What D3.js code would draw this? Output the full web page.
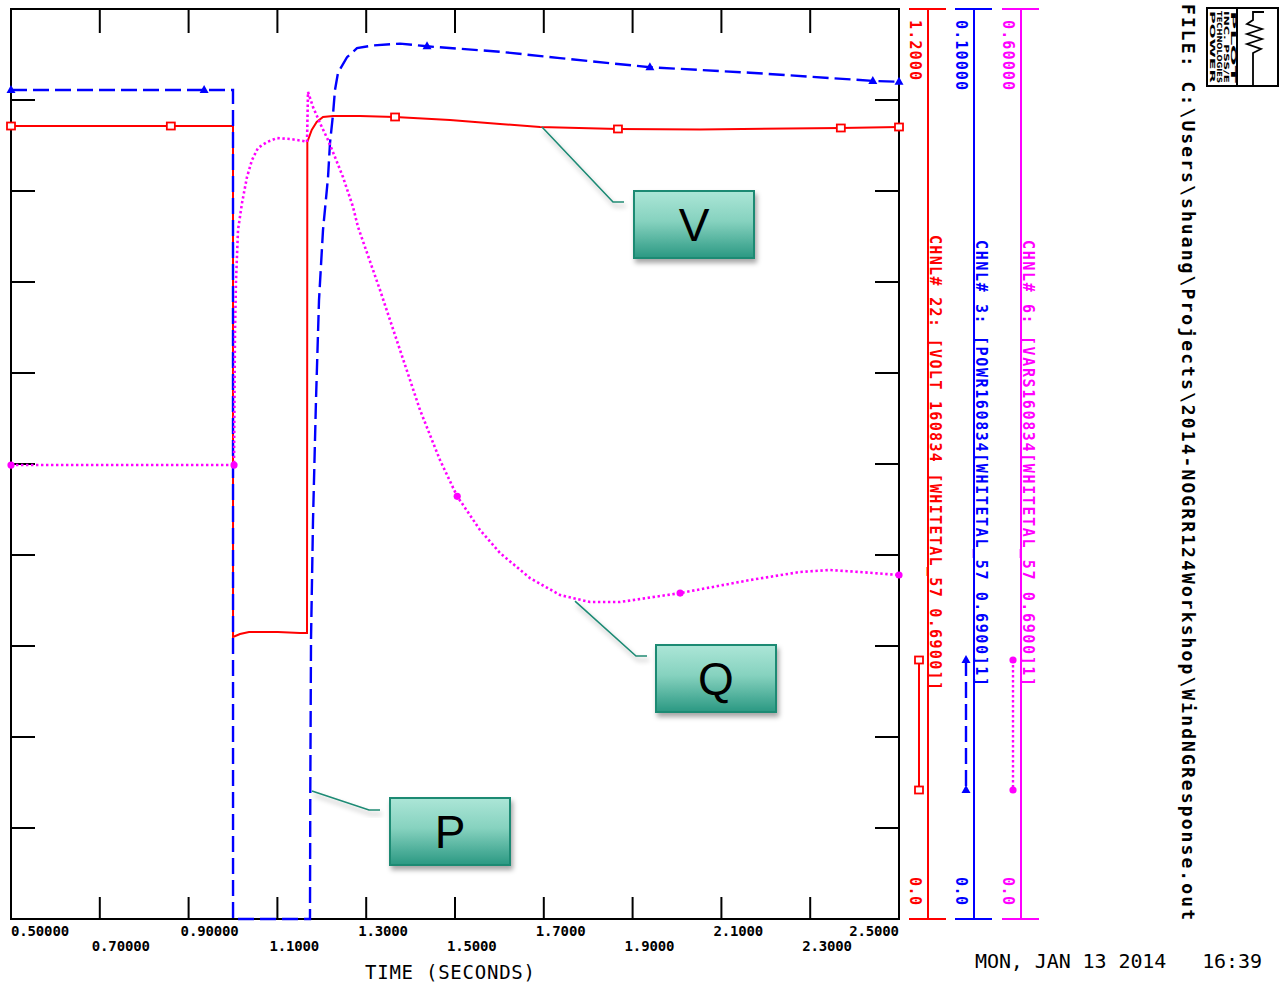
<!DOCTYPE html>
<html>
<head>
<meta charset="utf-8">
<script src="https://cdn.jsdelivr.net/npm/d3@7"></script>
<style>
  body { margin: 0; background: #fff; }
  svg { display: block; }
</style>
</head>
<body>
<div id="chart"></div>
<script>
// channel 22 - terminal voltage (pu)
const vTime = [0.5, 1.0, 1.0001, 1.0158, 1.036, 1.101, 1.151, 1.1667, 1.1674, 1.1773, 1.1885, 1.2027,
  1.2252, 1.286, 1.3649, 1.4887, 1.6014, 1.6914, 1.8671, 2.0518, 2.3694, 2.5];
const vValue = [1.0457, 1.0457, 0.3719, 0.3758, 0.3785, 0.3785, 0.3771, 0.3771, 1.0246, 1.0404, 1.051, 1.0576,
  1.0589, 1.0589, 1.0576, 1.0536, 1.0484, 1.0444, 1.0418, 1.0411, 1.0431, 1.0444];

// channel 3 - active power
const pTime = [0.5, 1.0, 1.0001, 1.1734, 1.1741, 1.1757, 1.1802, 1.1869, 1.1937, 1.2027, 1.214, 1.2185, 1.2252,
  1.2297, 1.2365, 1.2568, 1.2793, 1.3153, 1.3761, 1.4369, 1.6014, 1.7365, 1.9392, 2.1644, 2.4414, 2.5];
const pValue = [0.0911, 0.0911, 0, 0, 0.0142, 0.0307, 0.0438, 0.057, 0.068, 0.0757, 0.0815, 0.0853, 0.0884,
  0.0911, 0.093, 0.0947, 0.0957, 0.096, 0.0962, 0.0959, 0.0953, 0.0946, 0.0936, 0.093, 0.0921, 0.092];

// channel 6 - reactive power
const qTime = [0.5, 1.0, 1.0023, 1.0045, 1.0068, 1.0113, 1.0203, 1.0315, 1.0428, 1.0563, 1.0766, 1.0991, 1.1284,
  1.1577, 1.1667, 1.1689, 1.1802, 1.1959, 1.214, 1.2297, 1.2477, 1.2703, 1.2815, 1.3311, 1.3761, 1.4212, 1.4662,
  1.5045, 1.5563, 1.6014, 1.6689, 1.7365, 1.8041, 1.8716, 2.0068, 2.1644, 2.277, 2.3446, 2.4122, 2.5];
const qValue = [0.2993, 0.2993, 0.2993, 0.3884, 0.4213, 0.4543, 0.4721, 0.4892, 0.5004, 0.5084, 0.5123, 0.5149,
  0.5143, 0.513, 0.5123, 0.5453, 0.5354, 0.5248, 0.5136, 0.5024, 0.4892, 0.4695, 0.4563, 0.4147, 0.3752, 0.3356,
  0.3026, 0.2789, 0.2565, 0.2413, 0.2248, 0.2136, 0.209, 0.209, 0.2149, 0.2235, 0.2288, 0.2301, 0.2288, 0.2268];

// symbol positions along each trace
const vMarkTime = [0.5, 0.86, 1.365, 1.867, 2.369, 2.5];
const pMarkTime = [0.5, 0.935, 1.437, 1.939, 2.441, 2.5];
const qMarkTime = [0.5, 1.0023, 1.505, 2.007, 2.5];

const xTickValues = [0.5, 0.7, 0.9, 1.1, 1.3, 1.5, 1.7, 1.9, 2.1, 2.3, 2.5];
const xTickLabels = ['0.50000', '0.70000', '0.90000', '1.1000', '1.3000', '1.5000', '1.7000', '1.9000',
  '2.1000', '2.3000', '2.5000'];

const channels = [
  { name: 'CHNL# 22: [VOLT 160834 [WHITETAL_57 0.6900]]', min: '0.0', max: '1.2000', color: '#ff0000' },
  { name: 'CHNL# 3: [POWR160834[WHITETAL_57 0.6900]1]', min: '0.0', max: '0.10000', color: '#0000ff' },
  { name: 'CHNL# 6: [VARS160834[WHITETAL_57 0.6900]1]', min: '0.0', max: '0.60000', color: '#ff00ff' },
];

const width = 1281;
const height = 984;
const plot = { left: 11, top: 9, right: 899, bottom: 919 };
const plotFont = "'DejaVu Sans Mono', monospace";

const x = d3.scaleLinear().domain([0.5, 2.5]).range([plot.left, plot.right]);
const yV = d3.scaleLinear().domain([0, 1.2]).range([plot.bottom, plot.top]);
const yP = d3.scaleLinear().domain([0, 0.1]).range([plot.bottom, plot.top]);
const yQ = d3.scaleLinear().domain([0, 0.6]).range([plot.bottom, plot.top]);
const yDiv = d3.scaleLinear().domain([0, 10]).range([plot.bottom, plot.top]);

const valueAt = (ts, vs, t) => {
  const i = d3.bisectLeft(ts, t);
  if (i <= 0) return vs[0];
  if (i >= ts.length) return vs[vs.length - 1];
  const k = (t - ts[i - 1]) / (ts[i] - ts[i - 1]);
  return vs[i - 1] + (vs[i] - vs[i - 1]) * k;
};

const svg = d3.select('#chart')
  .append('svg')
  .attr('width', width)
  .attr('height', height)
  .attr('viewBox', [0, 0, width, height]);

svg.append('rect').attr('width', width).attr('height', height).attr('fill', '#fff');

const defs = svg.append('defs');
const grad = defs.append('linearGradient')
  .attr('id', 'boxFill')
  .attr('x1', 0).attr('y1', 0).attr('x2', 0).attr('y2', 1);
grad.append('stop').attr('offset', '0%').attr('stop-color', '#ace6d7');
grad.append('stop').attr('offset', '45%').attr('stop-color', '#86d2bf');
grad.append('stop').attr('offset', '100%').attr('stop-color', '#2a9882');

const shadow = defs.append('filter')
  .attr('id', 'shadow')
  .attr('x', '-20%').attr('y', '-20%').attr('width', '150%').attr('height', '160%');
shadow.append('feDropShadow')
  .attr('dx', 2).attr('dy', 4).attr('stdDeviation', 2.5)
  .attr('flood-color', '#000').attr('flood-opacity', 0.35);

// frame + ticks
const frame = svg.append('g').attr('stroke', '#000').attr('stroke-width', 2).attr('fill', 'none');
frame.append('rect')
  .attr('x', plot.left).attr('y', plot.top)
  .attr('width', plot.right - plot.left).attr('height', plot.bottom - plot.top);

const innerX = xTickValues.slice(1, -1);
frame.selectAll('.tt').data(innerX).join('line')
  .attr('x1', (d) => x(d)).attr('x2', (d) => x(d))
  .attr('y1', plot.top).attr('y2', plot.top + 24);
frame.selectAll('.bt').data(innerX).join('line')
  .attr('x1', (d) => x(d)).attr('x2', (d) => x(d))
  .attr('y1', plot.bottom).attr('y2', plot.bottom - 22);

const divs = d3.range(1, 10);
frame.selectAll('.lt').data(divs).join('line')
  .attr('x1', plot.left).attr('x2', plot.left + 24)
  .attr('y1', (d) => yDiv(d)).attr('y2', (d) => yDiv(d));
frame.selectAll('.rt').data(divs).join('line')
  .attr('x1', plot.right).attr('x2', plot.right - 24)
  .attr('y1', (d) => yDiv(d)).attr('y2', (d) => yDiv(d));

// x labels, two staggered rows
svg.append('g')
  .attr('font-family', plotFont)
  .attr('font-weight', 'bold')
  .attr('font-size', 14)
  .selectAll('text')
  .data(xTickValues)
  .join('text')
  .attr('x', (d, i) => {
    if (i === 0) return x(d);
    if (i === xTickValues.length - 1) return x(d);
    return x(d) - 8;
  })
  .attr('y', (d, i) => (i % 2 === 0 ? 936 : 951))
  .attr('text-anchor', (d, i) => (i === xTickValues.length - 1 ? 'end' : 'start'))
  .attr('textLength', (d, i) => xTickLabels[i].length * 8.3)
  .text((d, i) => xTickLabels[i]);

svg.append('text')
  .attr('x', 365).attr('y', 979)
  .attr('font-family', plotFont)
  .attr('font-size', 19)
  .attr('textLength', 170)
  .text('TIME (SECONDS)');

svg.append('text')
  .attr('x', 975).attr('y', 968)
  .attr('font-family', plotFont)
  .attr('font-size', 20)
  .attr('textLength', 287)
  .attr('xml:space', 'preserve')
  .text('MON, JAN 13 2014   16:39');

// traces
const lineV = d3.line().x((d) => x(d[0])).y((d) => yV(d[1]));
const lineP = d3.line().x((d) => x(d[0])).y((d) => yP(d[1]));
const lineQ = d3.line().x((d) => x(d[0])).y((d) => yQ(d[1]));

const traces = svg.append('g').attr('fill', 'none');
traces.append('path')
  .attr('d', lineV(d3.zip(vTime, vValue)))
  .attr('stroke', '#ff0000').attr('stroke-width', 2);
traces.append('path')
  .attr('d', lineP(d3.zip(pTime, pValue)))
  .attr('stroke', '#0000ff').attr('stroke-width', 2.4)
  .attr('stroke-dasharray', '16,6');
traces.append('path')
  .attr('d', lineQ(d3.zip(qTime, qValue)))
  .attr('stroke', '#ff00ff').attr('stroke-width', 2.6)
  .attr('stroke-dasharray', '2.4,2.6');

const square = (g, cx, cy) => g.append('rect')
  .attr('x', cx - 4).attr('y', cy - 3.5).attr('width', 8).attr('height', 7)
  .attr('fill', '#fff').attr('stroke', '#ff0000').attr('stroke-width', 1.8);
const triangle = (g, cx, cy) => g.append('path')
  .attr('d', `M${cx},${cy - 5}L${cx + 4.5},${cy + 3}L${cx - 4.5},${cy + 3}Z`)
  .attr('fill', '#0000ff');
const dot = (g, cx, cy) => g.append('circle')
  .attr('cx', cx).attr('cy', cy).attr('r', 3.6)
  .attr('fill', '#ff00ff');

const marks = svg.append('g');
vMarkTime.forEach((t) => square(marks, x(t), yV(valueAt(vTime, vValue, t))));
pMarkTime.forEach((t) => triangle(marks, x(t), yP(valueAt(pTime, pValue, t))));
qMarkTime.forEach((t) => dot(marks, x(t), yQ(valueAt(qTime, qValue, t))));

// channel axes on the right
const axisX = [928, 974, 1021];
const sampleX = [919, 966, 1013];
const chan = svg.append('g').attr('font-family', plotFont).attr('font-weight', 'bold');
channels.forEach((c, i) => {
  const ax = axisX[i];
  chan.append('line')
    .attr('x1', ax).attr('x2', ax).attr('y1', plot.top).attr('y2', plot.bottom)
    .attr('stroke', c.color).attr('stroke-width', 2);
  [plot.top, plot.bottom].forEach((yy) => chan.append('line')
    .attr('x1', ax - 19).attr('x2', ax + 18).attr('y1', yy).attr('y2', yy)
    .attr('stroke', c.color).attr('stroke-width', 2));

  chan.append('text')
    .attr('transform', `translate(${ax - 18},20) rotate(90)`)
    .attr('font-size', 15)
    .attr('fill', c.color)
    .attr('textLength', c.max.length * 10)
    .text(c.max);
  chan.append('text')
    .attr('transform', `translate(${ax - 18},877) rotate(90)`)
    .attr('font-size', 15)
    .attr('fill', c.color)
    .attr('textLength', 28)
    .text(c.min);
  chan.append('text')
    .attr('transform', `translate(${ax + 2},${i === 0 ? 235 : 240}) rotate(90)`)
    .attr('font-size', 15)
    .attr('fill', c.color)
    .attr('textLength', i === 0 ? 455 : 446)
    .text(c.name);

  // legend sample
  const sx = sampleX[i];
  const seg = chan.append('line')
    .attr('x1', sx).attr('x2', sx).attr('y1', 660).attr('y2', 790)
    .attr('stroke', c.color).attr('stroke-width', 2);
  if (i === 1) seg.attr('stroke-dasharray', '16,6').attr('stroke-width', 2.4);
  if (i === 2) seg.attr('stroke-dasharray', '2.4,2.6').attr('stroke-width', 2.4);
  [660, 790].forEach((yy) => {
    if (i === 0) square(chan, sx, yy);
    if (i === 1) triangle(chan, sx, yy);
    if (i === 2) dot(chan, sx, yy);
  });
});

// file path
svg.append('text')
  .attr('transform', 'translate(1182,4) rotate(90)')
  .attr('font-family', plotFont)
  .attr('font-weight', 'bold')
  .attr('font-size', 18)
  .attr('textLength', 916)
  .text('FILE: C:\\Users\\shuang\\Projects\\2014-NOGRR124Workshop\\WindNGResponse.out');

// logo block
const logo = svg.append('g').attr('stroke', '#000').attr('fill', 'none').attr('stroke-width', 2);
logo.append('rect').attr('x', 1207).attr('y', 8).attr('width', 71).attr('height', 78);
logo.append('line').attr('x1', 1237).attr('x2', 1237).attr('y1', 8).attr('y2', 86);
logo.append('path')
  .attr('stroke-width', 1.8)
  .attr('d', 'M1264,12L1253,12L1253,20L1247,24L1262,29L1247,34L1262,39L1247,44L1261,49L1253,53L1253,86');
const logoText = ['POWER', 'TECHNOLOGIES', 'INC. PSS/E', 'PLOT'];
svg.append('g')
  .attr('font-family', 'DejaVu Sans, sans-serif')
  .attr('font-weight', 'bold')
  .attr('font-size', 7)
  .selectAll('text')
  .data(logoText)
  .join('text')
  .attr('transform', (d, i) => `translate(${1210 + i * 7},11) rotate(90)`)
  .attr('textLength', 72)
  .attr('lengthAdjust', 'spacingAndGlyphs')
  .text((d) => d);

// callouts anchored on the traces
const callouts = [
  { label: 'V', t: 1.6914, y: yV(valueAt(vTime, vValue, 1.6914)), elbow: [613, 202], end: 624, box: [634, 191] },
  { label: 'Q', t: 1.7658, y: yQ(valueAt(qTime, qValue, 1.7658)) + 3, elbow: [636, 656], end: 647, box: [656, 645] },
  { label: 'P', t: 1.1734, y: 791, elbow: [369, 810], end: 380, box: [390, 798] },
];
const co = svg.append('g');
callouts.forEach((c) => {
  const ax = x(c.t) + 2;
  co.append('path')
    .attr('d', `M${ax},${c.y}L${c.elbow[0]},${c.elbow[1]}L${c.end},${c.elbow[1]}`)
    .attr('fill', 'none').attr('stroke', '#1f8a74').attr('stroke-width', 1.6)
    .attr('filter', 'url(#shadow)');
  co.append('rect')
    .attr('x', c.box[0]).attr('y', c.box[1]).attr('width', 120).attr('height', 67)
    .attr('fill', 'url(#boxFill)').attr('stroke', '#1d8a73').attr('stroke-width', 2)
    .attr('filter', 'url(#shadow)');
  co.append('text')
    .attr('x', c.box[0] + 60).attr('y', c.box[1] + 50)
    .attr('text-anchor', 'middle')
    .attr('font-family', 'Liberation Sans, Arial, sans-serif')
    .attr('font-size', 46)
    .attr('fill', '#000')
    .text(c.label);
});
</script>
</body>
</html>
